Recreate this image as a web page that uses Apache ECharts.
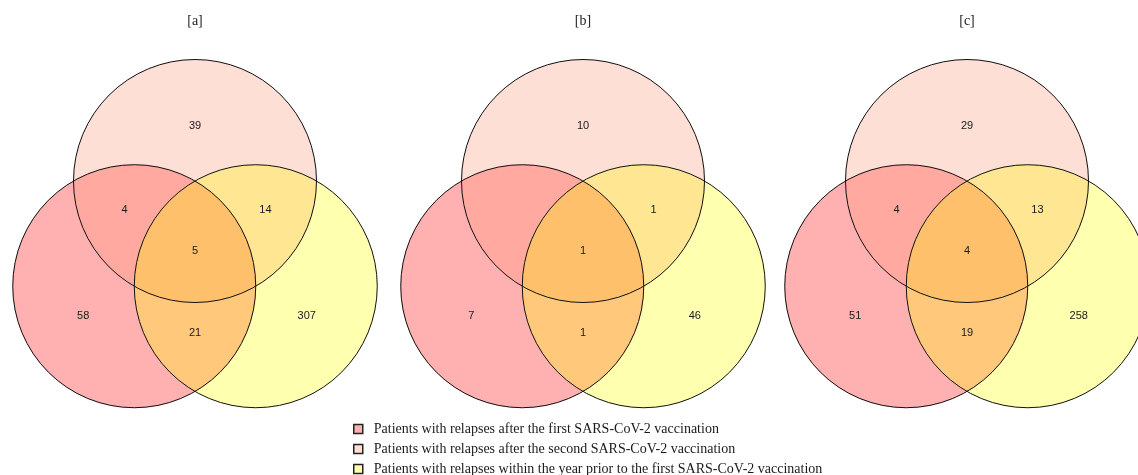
<!DOCTYPE html>
<html><head><meta charset="utf-8">
<script src="https://cdn.jsdelivr.net/npm/echarts@6/dist/echarts.min.js"></script>
<style>html,body{margin:0;padding:0;background:#fff}#chart{width:1138px;height:475px}</style>
</head><body><div id="chart"></div>
<script>
// ---- data ----
const panelTitles = ['[a]', '[b]', '[c]'];
const setNames = [
  'Patients with relapses after the first SARS-CoV-2 vaccination',
  'Patients with relapses after the second SARS-CoV-2 vaccination',
  'Patients with relapses within the year prior to the first SARS-CoV-2 vaccination'
];
// region order: first only, second only, prior only, first&second, second&prior, first&prior, all three
const regionKeys = ['first only', 'second only', 'prior only', 'first & second', 'second & prior', 'first & prior', 'all three'];
const countsA = [58, 39, 307, 4, 14, 21, 5];
const countsB = [7, 10, 46, null, 1, 1, 1];
const countsC = [51, 29, 258, 4, 13, 19, 4];
const panelCounts = [countsA, countsB, countsC];

// ---- style / layout ----
const setColors = ['#FFB0B0', '#FDDFD6', '#FFFFB0'];
const regionColors = ['#FFB0B0', '#FDDFD6', '#FFFFB0', '#FFA9A0', '#FFE692', '#FFC87A', '#FFC06C'];
const S = Math.sqrt(3) / 2;
const circleCenters = [[-0.5, -S], [0, 0], [0.5, -S]]; // first (left), second (top), prior (right)
const regionArcs = [
  [[0, 120, 300], [2, 240, 180], [1, 240, 180]],
  [[1, 0, 180], [0, 120, 60], [2, 120, 60]],
  [[2, 240, 420], [1, 0, -60], [0, 0, -60]],
  [[0, 60, 120], [1, 180, 240], [2, 180, 120]],
  [[2, 120, 60], [1, 0, -60], [0, 0, 60]],
  [[2, 180, 240], [0, 300, 360], [1, 300, 240]],
  [[0, 60, 0], [1, 300, 240], [2, 180, 120]]
];
const labelPos = [[-0.92, -1.11], [0, 0.45], [0.92, -1.11], [-0.58, -0.24], [0.58, -0.24], [0, -1.25], [0, -0.576]];
const panelX = [195, 583, 967];
const panelXMax = [1.6, 1.6, 1.4];
const centerY = 181;
const R = 121.5;

const chart = echarts.init(document.getElementById('chart'), null, {renderer: 'canvas'});

const grids = [], xAxes = [], yAxes = [], series = [];
panelTitles.forEach((t, p) => {
  grids.push({left: panelX[p] - 1.6 * R, top: centerY - 1.2 * R, width: (1.6 + panelXMax[p]) * R, height: 3.2 * R});
  xAxes.push({type: 'value', gridIndex: p, min: -1.6, max: panelXMax[p], show: false});
  yAxes.push({type: 'value', gridIndex: p, min: -2, max: 1.2, show: false});
  series.push({
    type: 'custom', name: 'regions ' + t, xAxisIndex: p, yAxisIndex: p, z: 2, silent: true, clip: false,
    data: panelCounts[p].map((v, i) => [i, v === null ? '-' : v]),
    renderItem(params, api) {
      const idx = api.value(0), cnt = api.value(1);
      const pts = [];
      regionArcs[idx].forEach(([c, a0, a1]) => {
        const n = 48;
        for (let k = 0; k <= n; k++) {
          const a = (a0 + (a1 - a0) * k / n) * Math.PI / 180;
          pts.push(api.coord([circleCenters[c][0] + Math.cos(a), circleCenters[c][1] + Math.sin(a)]));
        }
      });
      const children = [{type: 'polygon', shape: {points: pts}, style: {fill: regionColors[idx], stroke: regionColors[idx], lineWidth: 0.6}}];
      if (isFinite(cnt)) {
        const lp = api.coord(labelPos[idx]);
        children.push({type: 'text', x: lp[0], y: lp[1], z2: 10,
          style: {text: String(cnt), fill: '#1a1a1a', font: '11px "Liberation Sans", Arial, sans-serif', align: 'center', verticalAlign: 'middle'}});
      }
      return {type: 'group', children};
    }
  });
  setNames.forEach((nm, k) => {
    series.push({
      type: 'custom', name: nm, xAxisIndex: p, yAxisIndex: p, z: 3, silent: true, clip: false,
      itemStyle: {color: setColors[k]},
      data: [[k]],
      renderItem(params, api) {
        const c = api.coord(circleCenters[k]);
        const e = api.coord([circleCenters[k][0] + 1, circleCenters[k][1]]);
        const r = Math.abs(e[0] - c[0]);
        return {type: 'circle', shape: {cx: c[0], cy: c[1], r}, style: {fill: 'none', stroke: '#111', lineWidth: 1}};
      }
    });
  });
});

chart.setOption({
  animation: false,
  backgroundColor: '#fff',
  title: panelTitles.map((t, p) => ({
    text: t, left: panelX[p], top: 14, padding: 0, textAlign: 'center',
    textStyle: {fontFamily: 'Liberation Serif', fontSize: 14, fontWeight: 'normal', color: '#222'}
  })),
  legend: {
    orient: 'vertical', left: 353, top: 422, width: 600, height: 80, padding: 0,
    itemWidth: 9, itemHeight: 9, itemGap: 6, selectedMode: false,
    icon: 'rect',
    textStyle: {fontFamily: 'Liberation Serif', fontSize: 14, lineHeight: 14, color: '#1a1a1a', padding: [0, 0, 0, 6]},
    data: setNames.map((nm, k) => ({name: nm, icon: 'rect', itemStyle: {color: setColors[k], borderColor: '#222', borderWidth: 1.5}}))
  },
  grid: grids, xAxis: xAxes, yAxis: yAxes, series
});
</script></body></html>
